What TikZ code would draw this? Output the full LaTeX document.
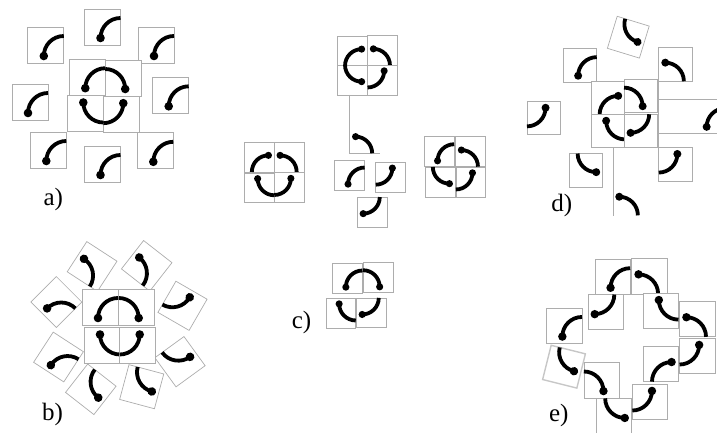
\documentclass[tikz,border=0pt]{standalone}
\usepackage{fontspec}
\setmainfont{Liberation Serif}

\begin{document}
\begin{tikzpicture}[
    x=1pt, y=-1pt,
    tileframe/.style={draw=black!32, line width=0.7pt, fill=white},
    tileedge/.style={draw=black!32, line width=0.7pt},
    tilearc/.style={line width=3.8pt},
    panel/.style={font=\fontsize{25}{30}\selectfont, inner sep=0pt},
    tile/.pic={
        \path[tileframe] (-18,-18) rectangle (18,18);
        \draw[tilearc] (18,-9) arc[start angle=-90, end angle=-180, radius=20];
        \fill (-2,11) circle[radius=4.3];
    },
    bare/.pic={
        \draw[tilearc] (18,-9) arc[start angle=-90, end angle=-180, radius=20];
        \fill (-2,11) circle[radius=4.3];
    }
]
\useasboundingbox (0,0) rectangle (717,433);

% a)
\pic at (102.5,27) {tile};
\pic at (45.8,45) {tile};
\pic at (156,45) {tile};
\pic at (30,102) {tile};
\pic at (170.7,95.3) {tile};
\pic at (48.3,150) {tile};
\pic at (102.5,164) {tile};
\pic at (155.3,150.8) {tile};
\pic at (87.3,77.2) {tile};
\pic[xscale=-1] at (123.2,78) {tile};
\pic[yscale=-1] at (85.3,113.5) {tile};
\pic[rotate=180] at (121.3,114.2) {tile};
\node[panel] (la) at (53.3,199) {a)};

% b)
\pic[rotate=-123] at (92.1,266.5) {tile};
\pic[rotate=-128] at (146.7,265.8) {tile};
\pic[rotate=-210] at (182.5,305.8) {tile};
\pic[rotate=-234] at (180,361.7) {tile};
\pic[rotate=-285] at (141.7,386.7) {tile};
\pic[rotate=-308] at (90.8,389.3) {tile};
\pic[rotate=-33] at (58.5,357) {tile};
\pic[rotate=-45] at (56.3,302) {tile};
\pic at (100,307) {tile};
\pic[xscale=-1] at (136.7,307) {tile};
\pic[yscale=-1] at (102,345.5) {tile};
\pic[rotate=180] at (137.7,345.5) {tile};
\node[panel] (lb) at (52.5,414) {b)};

% c)
\pic[scale=.83, rotate=90, xscale=-1] at (352.5,50.8) {tile};
\pic[scale=.83, rotate=-90] at (382.5,50.5) {tile};
\pic[scale=.83, rotate=90] at (352.5,80) {tile};
\pic[scale=.83, rotate=180] at (382.5,80) {tile};
\draw[tileedge] (349.3,95) -- (349.3,153.3) -- (380,153.3);
\pic[scale=.83, rotate=-90] at (364.7,138.3) {bare};
\pic[scale=.83] at (349.7,175) {tile};
\pic[scale=.83, rotate=180] at (390.7,177.2) {tile};
\pic[scale=.83, rotate=-90, xscale=-1] at (372.3,212) {tile};
\pic[scale=.83, rotate=90, xscale=-1] at (259.3,157) {tile};
\pic[scale=.83, rotate=-90] at (289.2,157) {tile};
\pic[scale=.83, yscale=-1] at (259.3,187.8) {tile};
\pic[scale=.83, rotate=180] at (289.2,187.5) {tile};
\pic[scale=.83] at (439.2,151.7) {tile};
\pic[scale=.83, rotate=-90] at (470.5,151.7) {tile};
\pic[scale=.83, rotate=90] at (440.3,182) {tile};
\pic[scale=.83, rotate=180] at (470.8,182) {tile};
\pic[scale=.83] at (347.5,278) {tile};
\pic[scale=.83, xscale=-1] at (378,277.7) {tile};
\pic[scale=.83, yscale=-1] at (340.8,313) {tile};
\pic[scale=.83, rotate=-90, xscale=-1] at (371.3,312.8) {tile};
\node[panel] (lc) at (301.5,322) {c)};

% d)
\pic[scale=.93, rotate=-287] at (628.3,37.2) {tile};
\pic[scale=.93] at (580,65.5) {tile};
\pic[scale=.93, rotate=-90] at (675.5,64.5) {tile};
\pic[scale=.93, rotate=180] at (543.7,118) {tile};
\draw[tileedge] (720,99.3) -- (658.3,99.3) -- (658.3,133.3) -- (720,133.3);
\draw[tileedge] (658.3,81) -- (658.3,147);
\pic[scale=.93] at (708.5,116.6) {bare};
\pic[scale=.93, rotate=90, xscale=-1] at (608,97.7) {tile};
\pic[scale=.93, xscale=-1] at (640.8,96) {tile};
\pic[scale=.93, yscale=-1] at (608,131) {tile};
\pic[scale=.93, rotate=-90, xscale=-1] at (640.8,131) {tile};
\pic[scale=.93, rotate=90] at (586,170.3) {tile};
\pic[scale=.93, rotate=180] at (675.5,164.2) {tile};
\draw[tileedge] (613.3,147.7) -- (613.3,216);
\pic[scale=.93, rotate=-90] at (629.5,198.6) {bare};
\node[panel] (ld) at (561.7,205) {d)};

% e)
\pic[scale=.98] at (612.5,277) {tile};
\pic[scale=.98, rotate=-90] at (649.3,276.3) {tile};
\pic[scale=.98, rotate=-90, xscale=-1] at (605.5,312.2) {tile};
\pic[scale=.98, yscale=-1] at (660.8,310.8) {tile};
\pic[scale=.98, rotate=-90] at (697.2,319.2) {tile};
\pic[scale=.98] at (564.3,325.8) {tile};
\pic[scale=.98, rotate=180] at (697.2,355.7) {tile};
\pic[scale=.98, rotate=90, xscale=-1] at (660.8,364) {tile};
\pic[scale=.98, xscale=-1] at (601.5,380.3) {tile};
\pic[scale=.98, rotate=-284, tileframe/.append style={draw=black!22, line width=1.4pt}] at (564,366.7) {tile};
\pic[scale=.98, rotate=180] at (650,401.7) {tile};
\pic[scale=.98, rotate=90] at (614,416) {tile};
\node[panel] (le) at (558.8,415) {e)};

\end{tikzpicture}
\end{document}
